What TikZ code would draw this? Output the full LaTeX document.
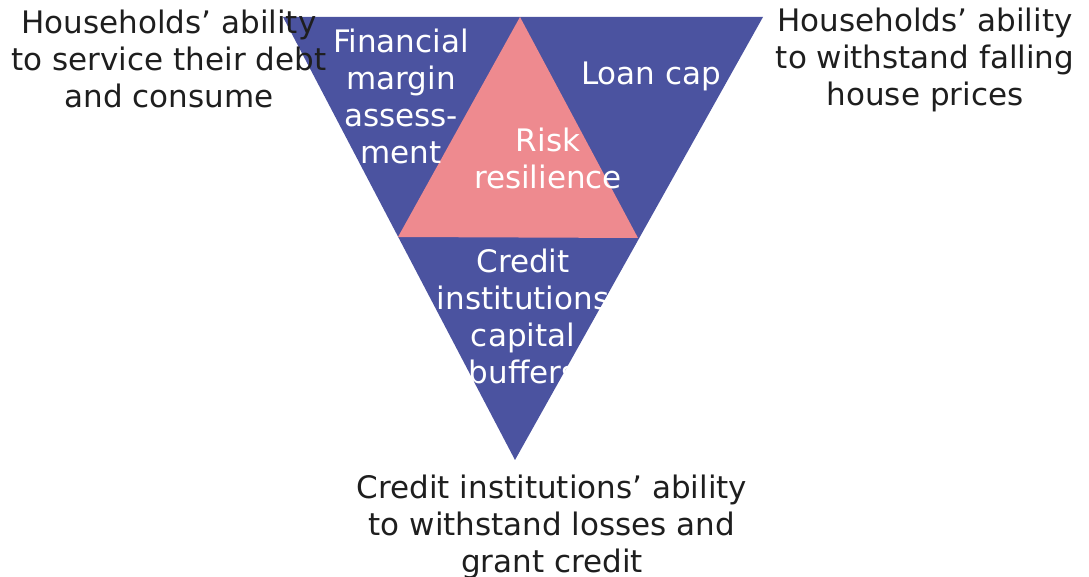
\documentclass[tikz,border=0pt]{standalone}
\usepackage{fontspec}
\setmainfont{DejaVu Sans}
\definecolor{capblue}{RGB}{75,83,160}
\definecolor{riskpink}{RGB}{238,138,143}
\definecolor{labelgrey}{RGB}{30,30,30}
\tikzset{
	inside/.style={text=white, align=center, inner sep=0pt, font=\fontsize{15.5}{18.5}\selectfont},
	outside/.style={text=labelgrey, align=center, inner sep=0pt, font=\fontsize{15.5}{18.5}\selectfont}
}
\begin{document}
\begin{tikzpicture}[x=0.5pt,y=-0.5pt]
	\useasboundingbox (0,0) rectangle (1089,577);

	\coordinate (tl) at (283,17);
	\coordinate (tr) at (763,17);
	\coordinate (bot) at (515,460);

	\coordinate (r-top) at (520,17);
	\coordinate (r-left) at (398,237);
	\coordinate (r-right) at (638,238);

	\fill [capblue] (tl) -- (tr) -- (bot) -- cycle;
	\fill [riskpink] (r-top) -- (r-left) -- (r-right) -- cycle;

	\begin{scope}[every node/.style={inside}]
	\node (margin) at (401, 96)  {Financial\\margin\\assess-\\ment};
	\node (loancap) at (651, 76) {Loan cap};
	\node (risk) at (548, 158)   {Risk\\resilience};
	\node (buffers) at (523, 316) {Credit\\institutions\\capital\\buffers};
	\end{scope}

	\begin{scope}[every node/.style={outside}]
	\node (debt) at (169, 59)    {Households’ ability\\to service their debt\\and consume};
	\node (prices) at (925, 60)  {Households’ ability\\to withstand falling\\house prices};
	\node (losses) at (552, 527) {Credit institutions’ ability\\to withstand losses and\\grant credit};
	\end{scope}

\end{tikzpicture}
\end{document}
